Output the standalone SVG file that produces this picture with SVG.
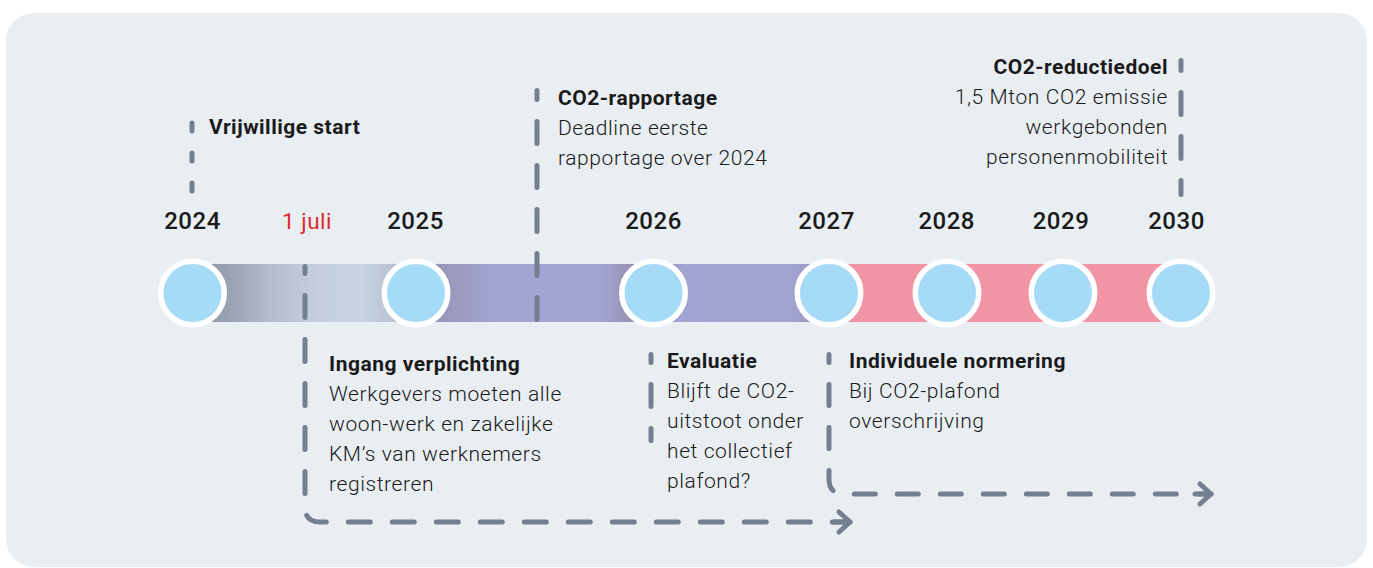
<svg xmlns="http://www.w3.org/2000/svg" width="1373" height="568" viewBox="0 0 1373 568">
<style>
.t{font-family:Roboto,"Liberation Sans",sans-serif;font-size:21px;font-weight:300;fill:#1a1a1a;letter-spacing:0.6px}
.b{font-weight:700;letter-spacing:0.5px}
.yr{font-family:Roboto,"Liberation Sans",sans-serif;font-size:24px;font-weight:500;fill:#1a1a1a;text-anchor:middle;letter-spacing:0.5px}
.red{fill:#de2a2c;font-weight:400;font-size:22.5px}
.dash{fill:none;stroke:#747f90;stroke-width:5;stroke-linecap:round;stroke-linejoin:round}
.node{fill:#a5dbf7;stroke:#fff;stroke-width:5.5}
</style>
<defs>
<linearGradient id="bar" gradientUnits="userSpaceOnUse" x1="192" y1="0" x2="1181" y2="0">
<stop offset="0" stop-color="#8e96a4"/>
<stop offset="0.038" stop-color="#99a2b0"/>
<stop offset="0.079" stop-color="#b4bdcb"/>
<stop offset="0.129" stop-color="#c5cfdf"/>
<stop offset="0.170" stop-color="#c8d3e3"/>
<stop offset="0.205" stop-color="#b9c2d2"/>
<stop offset="0.226" stop-color="#aab1c2"/>
<stop offset="0.2305" stop-color="#9795b4"/>
<stop offset="0.261" stop-color="#9a99bd"/>
<stop offset="0.311" stop-color="#a2a5d2"/>
<stop offset="0.413" stop-color="#a2a5d2"/>
<stop offset="0.443" stop-color="#9892b3"/>
<stop offset="0.466" stop-color="#948fb0"/>
<stop offset="0.473" stop-color="#9d9fc9"/>
<stop offset="0.504" stop-color="#a2a5d3"/>
<stop offset="0.605" stop-color="#a1a3d0"/>
<stop offset="0.635" stop-color="#9a97c1"/>
<stop offset="0.6441" stop-color="#9a97c1"/>
<stop offset="0.6451" stop-color="#ee909f"/>
<stop offset="0.695" stop-color="#f195a4"/>
<stop offset="1" stop-color="#f195a4"/>
</linearGradient>
<marker id="arrow" markerUnits="userSpaceOnUse" orient="auto" refX="0" refY="0" markerWidth="30" markerHeight="30" overflow="visible">
<path d="M-11,-10 L0,0 L-11,10 M-16,0 H0" fill="none" stroke="#747f90" stroke-width="5" stroke-linecap="round" stroke-linejoin="round"/>
</marker>
</defs>

<rect x="6" y="13" width="1361" height="554" rx="28" fill="#e9eef3"/>

<rect id="bar" x="192" y="264" width="989" height="58" fill="url(#bar)"/>

<g id="connectors">
<path class="dash" d="M192,123 V193" stroke-dasharray="8 22"/>
<path class="dash" d="M537,90.5 V320" stroke-dasharray="22 22" stroke-dashoffset="13"/>
<path class="dash" d="M1181,60.5 V194.5" stroke-dasharray="22 22" stroke-dashoffset="12"/>
<path class="dash" d="M305,266.5 V507 Q305,522 320,522 H850" stroke-dasharray="22 22" stroke-dashoffset="15" marker-end="url(#arrow)"/>
<path class="dash" d="M651,354.5 V440.5" stroke-dasharray="22 22" stroke-dashoffset="14"/>
<path class="dash" d="M829,354.5 V479 Q829,494 844,494 H1211" stroke-dasharray="21 22" stroke-dashoffset="13" marker-end="url(#arrow)"/>
</g>

<g id="node-2024"><circle class="node" cx="192.5" cy="293" r="31.75"/><text class="yr" x="192.5" y="229">2024</text></g>
<g id="node-1juli"><text class="yr red" x="307" y="229">1 juli</text></g>
<g id="node-2025"><circle class="node" cx="416" cy="293" r="31.75"/><text class="yr" x="415.5" y="229">2025</text></g>
<g id="node-2026"><circle class="node" cx="653.5" cy="293" r="31.75"/><text class="yr" x="653.5" y="229">2026</text></g>
<g id="node-2027"><circle class="node" cx="829" cy="293" r="31.75"/><text class="yr" x="826.5" y="229">2027</text></g>
<g id="node-2028"><circle class="node" cx="947" cy="293" r="31.75"/><text class="yr" x="946.7" y="229">2028</text></g>
<g id="node-2029"><circle class="node" cx="1063" cy="293" r="31.75"/><text class="yr" x="1061" y="229">2029</text></g>
<g id="node-2030"><circle class="node" cx="1181" cy="293" r="31.75"/><text class="yr" x="1176.5" y="229">2030</text></g>

<g id="label-vrijwillige"><text class="t b" x="209" y="134">Vrijwillige start</text></g>

<g id="label-rapportage">
<text class="t b" x="558" y="105">CO2-rapportage</text>
<text class="t" x="558" y="135">Deadline eerste</text>
<text class="t" x="558" y="165">rapportage over 2024</text>
</g>

<g id="label-reductiedoel">
<text class="t b" x="1168" y="74" text-anchor="end">CO2-reductiedoel</text>
<text class="t" x="1168" y="104" text-anchor="end">1,5 Mton CO2 emissie</text>
<text class="t" x="1168" y="134" text-anchor="end">werkgebonden</text>
<text class="t" x="1168" y="164" text-anchor="end">personenmobiliteit</text>
</g>

<g id="label-ingang">
<text class="t b" x="329" y="371">Ingang verplichting</text>
<text class="t" x="329" y="401">Werkgevers moeten alle</text>
<text class="t" x="329" y="431">woon-werk en zakelijke</text>
<text class="t" x="329" y="461">KM’s van werknemers</text>
<text class="t" x="329" y="491">registreren</text>
</g>

<g id="label-evaluatie">
<text class="t b" x="667" y="368">Evaluatie</text>
<text class="t" x="667" y="398">Blijft de CO2-</text>
<text class="t" x="667" y="428">uitstoot onder</text>
<text class="t" x="667" y="458">het collectief</text>
<text class="t" x="667" y="488">plafond?</text>
</g>

<g id="label-normering">
<text class="t b" x="849" y="368">Individuele normering</text>
<text class="t" x="849" y="398">Bij CO2-plafond</text>
<text class="t" x="849" y="428">overschrijving</text>
</g>
</svg>
